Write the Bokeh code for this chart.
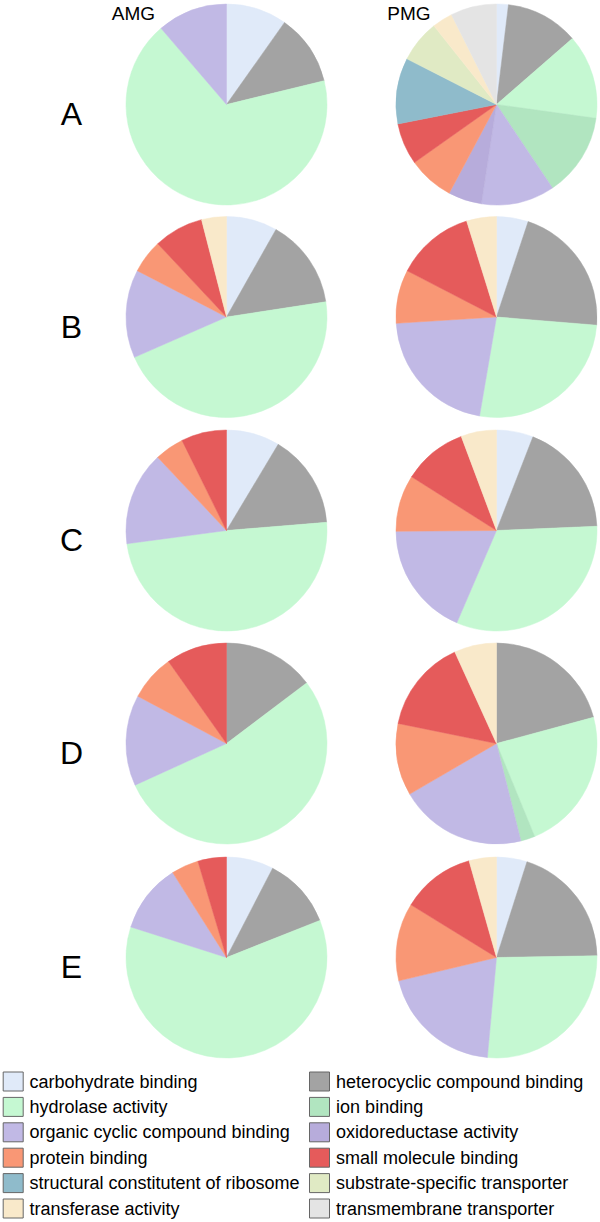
import numpy as np
from bokeh.plotting import figure
from bokeh.models import ColumnDataSource, Range1d
from bokeh.core.properties import value
from bokeh.embed import file_html
from bokeh.resources import INLINE

# ---------------- data ----------------
categories = [
    "carbohydrate binding",
    "heterocyclic compound binding",
    "hydrolase activity",
    "ion binding",
    "organic cyclic compound binding",
    "oxidoreductase activity",
    "protein binding",
    "small molecule binding",
    "structural constitutent of ribosome",
    "substrate-specific transporter",
    "transferase activity",
    "transmembrane transporter",
]
colors = [
    "#e0eaf9", "#a3a3a3", "#c5f8d2", "#b1e5c0", "#c1b9e5", "#b7acdb",
    "#f99775", "#e55b5b", "#8fbbcb", "#e0eac4", "#f9e9ca", "#e4e4e4",
]
groups = ["AMG", "PMG"]
row_labels = ["A", "B", "C", "D", "E"]

# percentage of each category (same order as categories)
amg_A = [9.8, 11.4, 67.5, 0, 11.3, 0, 0, 0, 0, 0, 0, 0]
pmg_A = [1.9, 11.7, 13.6, 13.4, 11.8, 5.4, 7.4, 6.7, 10.6, 6.8, 3.3, 7.4]
amg_B = [8.2, 14.4, 45.9, 0, 14.2, 0, 5.4, 8.0, 0, 0, 4.0, 0]
pmg_B = [5.1, 21.2, 26.4, 0, 21.3, 0, 8.6, 12.6, 0, 0, 4.8, 0]
amg_C = [8.6, 15.1, 49.2, 0, 15.1, 0, 4.7, 7.3, 0, 0, 0, 0]
pmg_C = [5.9, 18.4, 32.1, 0, 18.4, 0, 9.1, 10.3, 0, 0, 5.7, 0]
amg_D = [0, 14.7, 53.5, 0, 14.6, 0, 7.4, 9.8, 0, 0, 0, 0]
pmg_D = [0, 20.8, 23.0, 2.3, 20.5, 0, 11.6, 15.0, 0, 0, 6.8, 0]
amg_E = [7.6, 11.4, 61.0, 0, 11.1, 0, 4.4, 4.6, 0, 0, 0, 0]
pmg_E = [4.9, 19.8, 26.7, 0, 19.8, 0, 12.5, 11.8, 0, 0, 4.4, 0]

pies = [
    [amg_A, pmg_A],
    [amg_B, pmg_B],
    [amg_C, pmg_C],
    [amg_D, pmg_D],
    [amg_E, pmg_E],
]

# ---------------- layout (screen pixels) ----------------
W, H = 600, 1222
def sx(x):
    return x
def sy(y):
    return H - y

col_x = [226, 496]
row_y = [104, 316.5, 530, 743, 957]
R = 100.5

FONT = value("Liberation Sans")

p = figure(width=W, height=H, x_range=Range1d(0, W), y_range=Range1d(0, H),
           output_backend="svg", toolbar_location=None, min_border=0,
           x_axis_location=None, y_axis_location=None,
           outline_line_color=None, background_fill_color="white",
           border_fill_color="white")
p.grid.visible = False

# wedges
wx, wy, ws, we, wc = [], [], [], [], []
for r, row in enumerate(pies):
    for c, vals in enumerate(row):
        v = np.array(vals, dtype=float)
        frac = v / v.sum() * 2 * np.pi
        cum = np.concatenate([[0], np.cumsum(frac)])
        for i in range(len(v)):
            if v[i] <= 0:
                continue
            wx.append(sx(col_x[c]))
            wy.append(sy(row_y[r]))
            ws.append(np.pi / 2 - cum[i + 1])
            we.append(np.pi / 2 - cum[i])
            wc.append(colors[i])

src = ColumnDataSource(dict(x=wx, y=wy, start=ws, end=we, color=wc))
p.wedge(x="x", y="y", radius=R, start_angle="start", end_angle="end",
        fill_color="color", line_color="color", line_width=0.5, source=src)

# column headers
p.text(x=[sx(133), sx(408.5)], y=[sy(12.7), sy(12.7)], text=groups,
       text_align="center", text_baseline="alphabetic",
       text_font=FONT, text_font_size=value("19px"), text_color="#000000")

# row labels
p.text(x=[sx(71)] * 5, y=[sy(v + 9.5) for v in row_y], text=row_labels,
       text_align="center", text_baseline="alphabetic",
       text_font=FONT, text_font_size=value("32px"), text_color="#000000")

# legend (two columns, row-major)
lg_sw_x = [2.7, 309]
lg_tx_x = [29, 335.6]
lg_y0, lg_dy = 1081, 25.4
lx, ly, lc, tx, ty, tt = [], [], [], [], [], []
for i, cat in enumerate(categories):
    col = i % 2
    row = i // 2
    yc = lg_y0 + row * lg_dy
    lx.append(sx(lg_sw_x[col] + 10))
    ly.append(sy(yc))
    lc.append(colors[i])
    tx.append(sx(lg_tx_x[col]))
    ty.append(sy(yc))
    tt.append(cat)

p.rect(x=lx, y=ly, width=20, height=19, fill_color=lc,
       line_color="#666666", line_width=1)
p.text(x=tx, y=ty, text=tt, text_align="left", text_baseline="alphabetic",
       text_font=FONT, text_font_size=value("18px"), text_color="#000000")

open("out.html", "w").write(file_html(p, INLINE))
